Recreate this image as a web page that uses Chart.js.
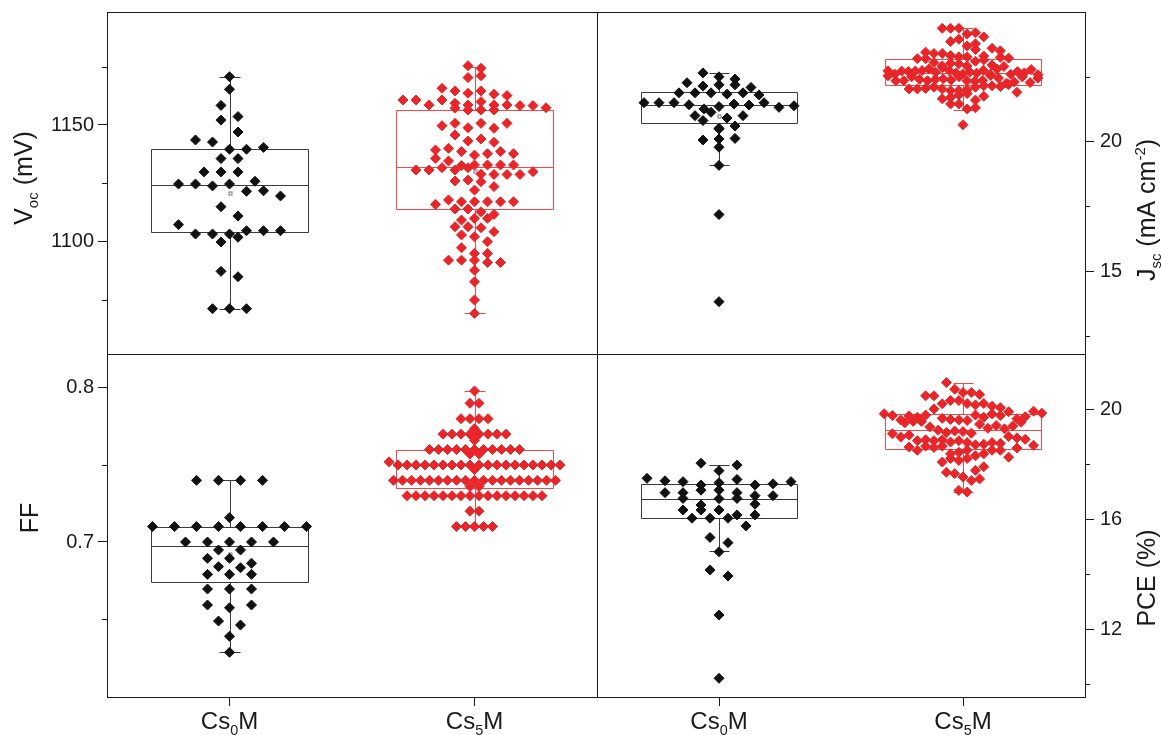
<!DOCTYPE html>
<html><head><meta charset="utf-8">
<script src="https://cdn.jsdelivr.net/npm/chart.js@4.4.1/dist/chart.umd.min.js"></script>
<style>
html,body{margin:0;padding:0;background:#fff;}
#wrap{position:relative;width:1161px;height:735px;overflow:hidden;background:#fff;}
#wrap canvas{position:absolute;}
</style></head><body>
<div id="wrap">
<canvas id="tl" width="600" height="357" style="left:0;top:0"></canvas>
<canvas id="tr" width="567" height="357" style="left:594px;top:0"></canvas>
<canvas id="bl" width="600" height="384" style="left:0;top:351px"></canvas>
<canvas id="br" width="567" height="384" style="left:594px;top:351px"></canvas>
</div>
<script>
// ---------------- data ----------------
const categories = ['Cs_{0}M', 'Cs_{5}M'];
const catValues = [1, 2];

const vocCs0 = [1170.7,1165.3,1158.4,1153.6,1152.1,1147.0,1143.6,1142.7,1139.6,1139.6,1140.4,1135.6,1135.6,1129.9,1129.9,1129.9,1125.9,1124.7,1124.7,1123.9,1124.7,1121.6,1121.8,1119.6,1115.0,1111.0,1107.3,1103.3,1099.9,1101.9,1103.3,1103.3,1104.7,1104.7,1104.7,1087.3,1085.0,1071.3,1071.3,1071.3];
const vocCs5 = [1175.4,1174.3,1170.3,1171.1,1165.7,1164.6,1163.6,1164.6,1163.2,1162.6,1160.7,1160.7,1158.6,1160.7,1159.3,1158.6,1160.0,1158.6,1158.6,1158.3,1158.3,1157.2,1157.4,1156.4,1156.4,1156.4,
  1149.7,1150.7,1148.8,1150.7,1148.6,1150.7,1145.7,1143.1,1144.0,1142.6,
  1139.3,1140.0,1138.6,1137.1,1137.7,1138.6,1135.7,1137.7,1134.6,
  1132.6,1130.7,1132.9,1132.9,1130.7,1132.9,1131.7,1132.9,1130.7,1131.7,
  1128.9,1128.8,1128.8,1128.8,1130.0,1126.0,1126.4,1125.7,1123.6,1122.1,
  1116.0,1117.9,1117.1,1117.1,1117.1,1117.1,1117.1,
  1114.0,1114.0,1112.8,1111.7,1109.3,1110.0,1110.0,
  1106.4,1106.4,1106.0,1104.3,1102.9,1102.1,1100.0,1097.4,1095.0,1095.0,1092.1,1092.1,1092.1,1091.1,1091.1,1087.8,1082.8,1075.0,1069.3];

const jscCs0 = [22.65,22.5,22.41,22.27,22.14,22.19,22.19,22.09,21.88,21.88,21.88,21.83,21.88,21.8,21.5,21.5,21.5,21.42,21.26,21.35,21.45,21.41,21.5,21.32,21.38,21.0,21.13,20.91,21.0,20.81,20.51,20.48,20.6,20.06,20.1,20.12,19.78,19.08,17.18,13.82];
const jscCs5 = [24.37,24.37,24.37,24.15,24.2,24.04,23.86,23.95,23.69,23.77,23.45,23.4,23.4,23.32,23.27,23.2,23.27,23.2,
  23.05,22.92,23.02,23.0,22.73,22.54,22.6,22.72,22.7,22.72,22.74,22.8,22.67,22.92,22.86,22.73,22.65,22.62,22.68,22.64,22.75,
  22.35,22.35,22.5,22.4,22.35,22.4,22.42,22.38,22.6,22.5,22.35,22.33,22.36,
  22.03,22.03,22.05,22.1,22.03,21.96,21.97,22.0,22.1,22.15,22.15,22.12,
  21.65,21.7,21.8,21.45,21.45,21.26,21.3,20.65,
  22.8,22.55,22.45,22.25,22.2,22.9,23.1,22.3,22.6,22.7,21.9,21.85,22.5,22.65,22.78,23.15,22.28,22.45,22.58,22.95,21.6,21.75,23.55,
  23.3,23.25,23.22,23.6,23.5];

const ffCs0 = [0.74,0.74,0.74,0.74,0.7158,0.71,0.71,0.71,0.71,0.71,0.71,0.71,0.71,0.70,0.70,0.70,0.70,0.70,0.6948,0.6948,0.6894,0.6894,0.6862,0.684,0.6833,0.679,0.679,0.679,0.6695,0.6695,0.6695,0.6591,0.6573,0.6591,0.6487,0.6461,0.6388,0.6284];
const ffCs5 = [0.798,0.79,0.79,0.78,0.78,0.78,0.78,0.7735,
  0.77,0.77,0.77,0.77,0.77,0.77,0.77,0.77,0.766,
  0.76,0.76,0.76,0.76,0.76,0.76,0.76,0.76,0.76,0.76,0.76,0.757,0.757,0.752,
  0.75,0.75,0.75,0.75,0.75,0.75,0.75,0.75,0.75,0.75,0.75,0.75,0.75,0.75,0.75,0.75,0.75,0.75,0.75,0.747,
  0.74,0.74,0.74,0.74,0.74,0.74,0.74,0.74,0.74,0.74,0.74,0.74,0.74,0.74,0.74,0.74,0.74,0.74,0.74,0.736,0.736,
  0.73,0.73,0.73,0.73,0.73,0.73,0.73,0.73,0.73,0.73,0.73,0.73,0.73,0.73,0.73,0.73,
  0.72,0.72,0.71,0.71,0.71,0.71,0.71];

const pceCs0 = [18.03,17.76,17.96,17.48,17.39,17.36,17.24,17.32,17.44,17.24,17.28,17.36,16.96,16.96,17.05,17.05,16.96,16.75,16.51,16.74,16.85,16.85,16.75,16.54,16.33,16.33,16.33,16.15,16.03,16.15,16.03,16.03,15.75,15.33,15.14,14.81,14.15,13.93,12.51,10.21];
const pceCs5 = [20.96,20.72,20.6,20.48,20.6,20.48,20.53,20.19,20.31,20.31,20.2,20.15,20.2,20.1,
  19.83,19.76,19.5,19.6,19.55,19.75,19.7,19.78,20.0,19.66,19.62,19.6,19.55,19.58,19.78,19.7,19.82,19.76,
  19.35,19.23,19.15,19.1,19.2,19.18,19.12,18.98,19.05,
  18.85,18.88,18.85,18.88,18.8,18.62,18.5,18.85,18.65,18.6,18.78,18.65,18.7,18.72,18.78,18.75,
  18.37,18.43,18.5,18.3,18.37,18.5,18.5,18.07,18.2,18.13,18.2,18.25,
  17.77,17.9,17.7,17.65,17.53,17.4,17.46,17.04,16.98,
  19.9,19.45,19.3,19.4,19.0,18.95,19.65,19.72,19.28,19.38,18.9,19.52,19.92,18.68,18.58,19.85,20.05];

// box statistics: [lower whisker, Q1, median, Q3, upper whisker, mean]
const vocBoxCs0 = [1071.3, 1104.0, 1124.2, 1139.6, 1170.7, 1121.0];
const vocBoxCs5 = [1069.3, 1113.9, 1132.1, 1156.4, 1175.0, 1130.5];
const jscBoxCs0 = [19.1, 20.7, 21.41, 21.9, 22.63, 21.0];
const jscBoxCs5 = [21.2, 22.19, 22.63, 23.18, 24.37, 22.65];
const ffBoxCs0 = [0.6284, 0.674, 0.6976, 0.71, 0.74, 0.6924];
const ffBoxCs5 = [0.71, 0.735, 0.75, 0.76, 0.798, 0.748];
const pceBoxCs0 = [14.85, 16.05, 16.73, 17.26, 17.96, 16.33];
const pceBoxCs5 = [17.0, 18.53, 19.23, 19.83, 20.96, 19.2];

// axis ticks
const vocTicks = [1100, 1150], vocMinor = [1075, 1125, 1175];
const jscTicks = [15, 20], jscMinor = [12.5, 17.5, 22.5];
const ffTicks = [0.7, 0.8], ffMinor = [0.65, 0.75];
const pceTicks = [12, 16, 20], pceMinor = [10, 14, 18];

// ---------------- drawing ----------------
const FONT = '"Liberation Sans", Arial, Helvetica, sans-serif';
const TXT = '#1a1a1a';
const BLACK = '#111111', RED = '#e8262a';
const BOX_BLACK = '#3a3a3a', BOX_RED = '#f04848';

function parseRich(str) {
  const out = [];
  const re = /_\{([^}]*)\}|\^\{([^}]*)\}|([^_^]+)/g;
  let m;
  while ((m = re.exec(str))) {
    if (m[1] !== undefined) out.push({t: m[1], k: 'sub'});
    else if (m[2] !== undefined) out.push({t: m[2], k: 'sup'});
    else out.push({t: m[3], k: ''});
  }
  return out;
}
function richText(ctx, str, x, y, size, rot) {
  const segs = parseRich(str);
  ctx.save();
  ctx.translate(x, y); ctx.rotate(rot);
  ctx.textBaseline = 'alphabetic'; ctx.textAlign = 'left'; ctx.fillStyle = TXT;
  let total = 0;
  const m = segs.map(s => { const fs = s.k ? size * 0.6 : size; ctx.font = fs + 'px ' + FONT; const w = ctx.measureText(s.t).width; total += w; return {fs, w}; });
  let cx = -total / 2;
  segs.forEach((s, i) => {
    ctx.font = m[i].fs + 'px ' + FONT;
    const dy = s.k === 'sub' ? size * 0.24 : s.k === 'sup' ? -size * 0.42 : 0;
    ctx.fillText(s.t, cx, dy); cx += m[i].w;
  });
  ctx.restore();
}

const panelPlugin = {
  id: 'panel',
  beforeDatasetsDraw(chart, a, o) {
    const {ctx, chartArea: ca, scales: {x, y}} = chart;
    ctx.save();
    ctx.beginPath(); ctx.rect(ca.left, ca.top, ca.right - ca.left, ca.bottom - ca.top); ctx.clip();
    o.boxes.forEach(b => {
      const [lo, q1, med, q3, hi, mean] = b.stats;
      const cx = x.getPixelForValue(b.cat);
      const hw = x.getPixelForValue(b.cat + 0.32) - cx;
      const cw = x.getPixelForValue(b.cat + 0.042) - cx;
      const P = v => Math.round(y.getPixelForValue(v)) + 0.5;
      const X = v => Math.round(v) + 0.5;
      ctx.strokeStyle = b.color; ctx.lineWidth = 1;
      ctx.beginPath();
      ctx.moveTo(X(cx - hw), P(q3)); ctx.lineTo(X(cx + hw), P(q3)); ctx.lineTo(X(cx + hw), P(q1)); ctx.lineTo(X(cx - hw), P(q1)); ctx.closePath();
      ctx.moveTo(X(cx - hw), P(med)); ctx.lineTo(X(cx + hw), P(med));
      ctx.moveTo(X(cx), P(q3)); ctx.lineTo(X(cx), P(hi));
      ctx.moveTo(X(cx), P(q1)); ctx.lineTo(X(cx), P(lo));
      ctx.moveTo(X(cx - cw), P(hi)); ctx.lineTo(X(cx + cw), P(hi));
      ctx.moveTo(X(cx - cw), P(lo)); ctx.lineTo(X(cx + cw), P(lo));
      ctx.stroke();
      ctx.strokeStyle = '#777';
      ctx.strokeRect(X(cx) - 1.5, P(mean) - 1.5, 3, 3);
    });
    ctx.restore();
  },
  afterDraw(chart, a, o) {
    const {ctx, chartArea: ca, scales: {x, y}} = chart;
    ctx.save();
    ctx.strokeStyle = TXT; ctx.lineWidth = 1;
    ctx.strokeRect(Math.round(ca.left) + 0.5, Math.round(ca.top) + 0.5, Math.round(ca.right - ca.left), Math.round(ca.bottom - ca.top));
    ctx.beginPath();
    o.minor.forEach(v => {
      const py = Math.round(y.getPixelForValue(v)) + 0.5;
      if (o.side === 'left') { ctx.moveTo(ca.left - 5, py); ctx.lineTo(ca.left, py); }
      else { ctx.moveTo(ca.right, py); ctx.lineTo(ca.right + 5, py); }
    });
    ctx.stroke();
    ctx.restore();
    richText(ctx, o.title, o.tx, o.ty, 25, -Math.PI / 2);
    if (o.xlabels) {
      categories.forEach((c, i) => richText(ctx, c, x.getPixelForValue(catValues[i]), ca.bottom + 32, 24, 0));
    }
  }
};

function noPad(s) { s.paddingTop = 0; s.paddingBottom = 0; s.paddingLeft = 0; s.paddingRight = 0; }

function makePanel(id, opt) {
  const ds = [
    {data: opt.vals[0].map(v => ({x: catValues[0], y: v})), backgroundColor: BLACK, borderColor: BLACK},
    {data: opt.vals[1].map(v => ({x: catValues[1], y: v})), backgroundColor: RED, borderColor: RED}
  ].map(d => Object.assign(d, {pointStyle: 'rectRot', pointRadius: 5, borderWidth: 1}));
  const chart = new Chart(document.getElementById(id), {
    type: 'scatter',
    data: {datasets: ds},
    plugins: [panelPlugin],
    options: {
      responsive: false, animation: false, events: [],
      layout: {padding: opt.padding, autoPadding: false},
      plugins: {
        legend: {display: false}, tooltip: {enabled: false},
        panel: {boxes: [{cat: catValues[0], stats: opt.box[0], color: BOX_BLACK}, {cat: catValues[1], stats: opt.box[1], color: BOX_RED}],
                minor: opt.minor, side: opt.side, title: opt.title, tx: opt.tx, ty: opt.ty, xlabels: opt.xlabels}
      },
      scales: {
        x: {
          type: 'linear', min: 0.5, max: 2.5, display: opt.xlabels,
          afterBuildTicks: s => { s.ticks = catValues.map(v => ({value: v})); },
          afterFit: s => { s.height = opt.xlabels ? 38 : 0; noPad(s); },
          ticks: {callback: () => '', font: {size: 20, family: FONT}},
          grid: {drawOnChartArea: false, drawTicks: true, tickLength: 9, color: TXT},
          border: {display: false}
        },
        y: {
          type: 'linear', position: opt.side, min: opt.min, max: opt.max,
          afterBuildTicks: s => { s.ticks = opt.ticks.map(v => ({value: v})); },
          afterFit: s => { s.width = opt.yw; noPad(s); },
          ticks: {callback: v => String(v), font: {size: 20, family: FONT}, color: TXT, padding: opt.side === 'right' ? 6 : 4},
          grid: {drawOnChartArea: false, drawTicks: true, tickLength: 9, color: TXT},
          border: {display: false}
        }
      }
    }
  });
  swarm(chart, opt.vals, opt.spread);
  return chart;
}

// beeswarm-style side-by-side layout computed through the chart scales
function swarm(chart, vals, spread) {
  const xs = chart.scales.x, ys = chart.scales.y;
  vals.forEach((arr, di) => {
    const g = spread[di];
    const cx = xs.getPixelForValue(catValues[di]);
    const items = arr.map((v, i) => ({v, i, py: ys.getPixelForValue(v)}));
    const sorted = items.slice().sort((p, q) => p.py - q.py);
    const bins = []; let cur = null;
    sorted.forEach(it => {
      if (!cur || it.py - cur.y0 > g.hb) { cur = {y0: it.py, list: []}; bins.push(cur); }
      cur.list.push(it);
    });
    const pts = new Array(arr.length);
    bins.forEach(b => {
      b.list.sort((p, q) => p.i - q.i);
      const n = b.list.length;
      const s = n > 1 ? Math.min(g.sp, g.w / (n - 1)) : 0;
      b.list.forEach((it, k) => { pts[it.i] = {x: xs.getValueForPixel(cx + (k - (n - 1) / 2) * s), y: it.v}; });
    });
    chart.data.datasets[di].data = pts;
  });
  chart.update('none');
}

makePanel('tl', {vals: [vocCs0, vocCs5], box: [vocBoxCs0, vocBoxCs5], min: 1051.9, max: 1198.4, ticks: vocTicks, minor: vocMinor,
  side: 'left', yw: 107, padding: {top: 12, right: 3, bottom: 3, left: 0}, xlabels: false,
  title: 'V_{oc} (mV)', tx: 32, ty: 178, spread: [{sp: 17, hb: 12, w: 160}, {sp: 13, hb: 8, w: 150}]});
makePanel('tr', {vals: [jscCs0, jscCs5], box: [jscBoxCs0, jscBoxCs5], min: 11.8, max: 25.0, ticks: jscTicks, minor: jscMinor,
  side: 'right', yw: 76, padding: {top: 12, right: 0, bottom: 3, left: 3}, xlabels: false,
  title: 'J_{sc} (mA cm^{-2})', tx: 561, ty: 210, spread: [{sp: 16, hb: 8, w: 150}, {sp: 8.3, hb: 9, w: 150}]});
makePanel('bl', {vals: [ffCs0, ffCs5], box: [ffBoxCs0, ffBoxCs5], min: 0.5994, max: 0.822, ticks: ffTicks, minor: ffMinor,
  side: 'left', yw: 107, padding: {top: 3, right: 3, bottom: 0, left: 0}, xlabels: true,
  title: 'FF', tx: 38, ty: 167, spread: [{sp: 22, hb: 6, w: 180}, {sp: 9, hb: 4, w: 180}]});
makePanel('br', {vals: [pceCs0, pceCs5], box: [pceBoxCs0, pceBoxCs5], min: 9.53, max: 22.0, ticks: pceTicks, minor: pceMinor,
  side: 'right', yw: 76, padding: {top: 3, right: 0, bottom: 0, left: 3}, xlabels: true,
  title: 'PCE (%)', tx: 561, ty: 227, spread: [{sp: 18, hb: 8, w: 155}, {sp: 8.3, hb: 12, w: 160}]});
</script>
</body></html>
